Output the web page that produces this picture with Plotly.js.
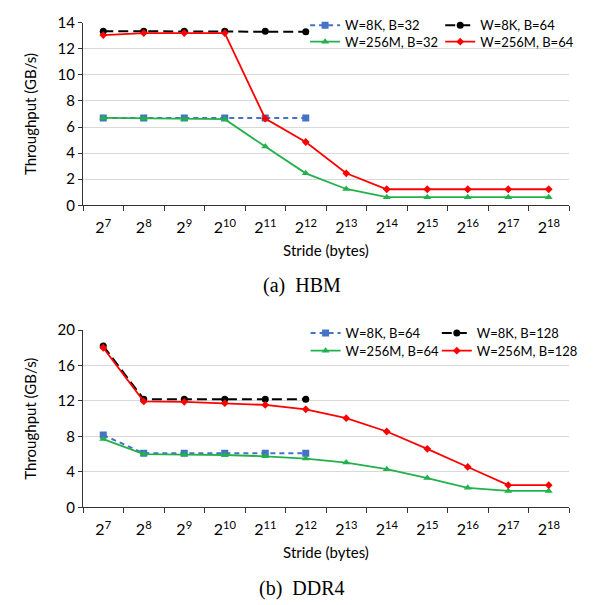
<!DOCTYPE html>
<html><head><meta charset="utf-8">
<script src="https://cdn.plot.ly/plotly-3.0.1.min.js"></script>
<style>body{margin:0;background:#fff}</style></head>
<body><div id="chart" style="width:601px;height:605px"></div>
<script>
// Categories (stride)
const strides = ['2<sup>7</sup>','2<sup>8</sup>','2<sup>9</sup>','2<sup>10</sup>','2<sup>11</sup>','2<sup>12</sup>',
                 '2<sup>13</sup>','2<sup>14</sup>','2<sup>15</sup>','2<sup>16</sup>','2<sup>17</sup>','2<sup>18</sup>'];
const stridesShort = ['2<sup>7</sup>','2<sup>8</sup>','2<sup>9</sup>','2<sup>10</sup>','2<sup>11</sup>','2<sup>12</sup>'];

// (a) HBM
const hbmW8K_B32   = [6.7, 6.7, 6.7, 6.7, 6.7, 6.7];
const hbmW8K_B64   = [13.35, 13.35, 13.35, 13.35, 13.35, 13.3];
const hbmW256M_B32 = [6.7, 6.65, 6.6, 6.6, 4.5, 2.45, 1.25, 0.62, 0.62, 0.62, 0.62, 0.62];
const hbmW256M_B64 = [13.05, 13.2, 13.2, 13.2, 6.65, 4.85, 2.45, 1.23, 1.23, 1.23, 1.23, 1.23];

// (b) DDR4
const ddrW8K_B64    = [8.15, 6.1, 6.1, 6.1, 6.1, 6.1];
const ddrW8K_B128   = [18.2, 12.2, 12.2, 12.2, 12.2, 12.2];
const ddrW256M_B64  = [7.7, 6.0, 5.95, 5.9, 5.75, 5.5, 5.05, 4.3, 3.3, 2.2, 1.85, 1.85];
const ddrW256M_B128 = [18.0, 11.95, 11.9, 11.75, 11.55, 11.05, 10.05, 8.55, 6.6, 4.55, 2.5, 2.5];

const BLUE = '#4472C4', BLACK = '#000000', GREEN = '#22B14C', RED = '#FF0000';

function blueTrace(x, y, name, xa, ya, lg) {
  return {x, y, name, xaxis: xa, yaxis: ya, legend: lg, mode: 'lines+markers', type: 'scatter',
    line: {color: BLUE, width: 2, dash: '5px,4px'}, marker: {symbol: 'square', size: 7, color: BLUE}};
}
function blackTrace(x, y, name, xa, ya, lg) {
  return {x, y, name, xaxis: xa, yaxis: ya, legend: lg, mode: 'lines+markers', type: 'scatter',
    line: {color: BLACK, width: 2, dash: '10px,5px'}, marker: {symbol: 'circle', size: 7, color: BLACK}};
}
function greenTrace(x, y, name, xa, ya, lg) {
  return {x, y, name, xaxis: xa, yaxis: ya, legend: lg, mode: 'lines+markers', type: 'scatter',
    line: {color: GREEN, width: 1.8}, marker: {symbol: 'triangle-up', size: 7, color: GREEN}};
}
function redTrace(x, y, name, xa, ya, lg) {
  return {x, y, name, xaxis: xa, yaxis: ya, legend: lg, mode: 'lines+markers', type: 'scatter',
    line: {color: RED, width: 1.8}, marker: {symbol: 'diamond', size: 6, color: RED}};
}

const data = [
  blueTrace(stridesShort, hbmW8K_B32, 'W=8K, B=32', 'x', 'y', 'legend'),
  blackTrace(stridesShort, hbmW8K_B64, 'W=8K, B=64', 'x', 'y', 'legend2'),
  greenTrace(strides, hbmW256M_B32, 'W=256M, B=32', 'x', 'y', 'legend3'),
  redTrace(strides, hbmW256M_B64, 'W=256M, B=64', 'x', 'y', 'legend4'),
  blueTrace(stridesShort, ddrW8K_B64, 'W=8K, B=64', 'x2', 'y2', 'legend5'),
  blackTrace(stridesShort, ddrW8K_B128, 'W=8K, B=128', 'x2', 'y2', 'legend6'),
  greenTrace(strides, ddrW256M_B64, 'W=256M, B=64', 'x2', 'y2', 'legend7'),
  redTrace(strides, ddrW256M_B128, 'W=256M, B=128', 'x2', 'y2', 'legend8')
];

const FONT = 'Lato, "Open Sans", sans-serif';
function xaxis(anchor) {
  return {anchor, type: 'category', categoryorder: 'array', categoryarray: strides,
    range: [-0.5, 11.5], showgrid: false, zeroline: false, showline: true, linecolor: '#333', linewidth: 1,
    ticks: 'outside', tickson: 'boundaries', ticklen: 5, tickcolor: '#333', ticklabelstandoff: 8,
    tickfont: {family: FONT, size: 16, color: '#000'},
    title: {text: 'Stride (bytes)', font: {family: FONT, size: 15, color: '#000'}, standoff: 10},
    fixedrange: true};
}
function yaxis(anchor, domain, max, dtick) {
  return {anchor, domain, range: [0, max], dtick, showgrid: true, gridcolor: '#d9d9d9', gridwidth: 1,
    zeroline: false, showline: true, linecolor: '#333', linewidth: 1,
    ticks: 'outside', ticklen: 4, tickcolor: '#333',
    tickfont: {family: FONT, size: 15, color: '#000'},
    title: {text: 'Throughput (GB/s)', font: {family: FONT, size: 15, color: '#000'}, standoff: 17},
    fixedrange: true};
}
function legend(x, y) {
  return {x, y, xref: 'paper', yref: 'paper', xanchor: 'left', yanchor: 'middle', orientation: 'h',
    bgcolor: 'rgba(0,0,0,0)', font: {family: FONT, size: 13, color: '#000'}, itemwidth: 30};
}

const layout = {
  width: 601, height: 605,
  margin: {l: 83, r: 32, t: 0, b: 0},
  paper_bgcolor: '#fff', plot_bgcolor: '#fff',
  showlegend: true,
  xaxis: xaxis('y'),
  yaxis: yaxis('x', [0.6607, 0.9625], 14, 2),
  xaxis2: xaxis('y2'),
  yaxis2: yaxis('x2', [0.1615, 0.4545], 20, 4),
  legend:  legend(0.457, 0.958),
  legend2: legend(0.735, 0.958),
  legend3: legend(0.457, 0.9311),
  legend4: legend(0.735, 0.9311),
  legend5: legend(0.458, 0.4496),
  legend6: legend(0.728, 0.4496),
  legend7: legend(0.458, 0.4203),
  legend8: legend(0.728, 0.4203),
  annotations: [
    {text: '(a)  HBM', xref: 'paper', yref: 'paper', x: 0.45, y: 0.5285, xanchor: 'center', yanchor: 'middle',
     showarrow: false, font: {family: '"Liberation Serif", serif', size: 20, color: '#000'}},
    {text: '(b)  DDR4', xref: 'paper', yref: 'paper', x: 0.45, y: 0.0275, xanchor: 'center', yanchor: 'middle',
     showarrow: false, font: {family: '"Liberation Serif", serif', size: 20, color: '#000'}}
  ]
};

Plotly.newPlot('chart', data, layout, {displayModeBar: false, staticPlot: true});
</script></body></html>
